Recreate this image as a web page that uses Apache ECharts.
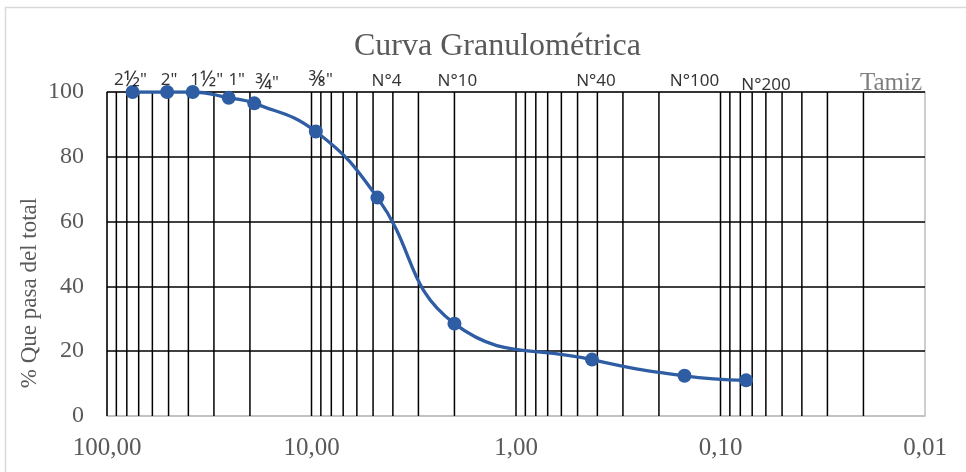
<!DOCTYPE html>
<html>
<head>
<meta charset="utf-8">
<script src="https://cdn.jsdelivr.net/npm/echarts@6/dist/echarts.min.js"></script>
<style>html,body{margin:0;padding:0;background:#fff}#c{width:966px;height:472px}</style>
</head>
<body>
<div id="c"></div>
<script>
// ---- data ----
const sieveLabels = ['2½"', '2"', '1½"', '1"', '¾"', '⅜"', 'N°4', 'N°10', 'N°40', 'N°100', 'N°200'];
const openingMm = [75, 50.8, 38.1, 25.4, 19.05, 9.525, 4.76, 2.0, 0.425, 0.15, 0.075];
const percentPassing = [100, 100, 100, 98.2, 96.5, 87.8, 67.4, 28.5, 17.4, 12.4, 11.0];
const gridLinesMm = [100, 90, 80, 70, 60, 50, 40, 30, 20,
  10, 9, 8, 7, 6, 5, 4, 3, 2,
  1, 0.9, 0.8, 0.7, 0.6, 0.5, 0.4, 0.3, 0.2,
  0.1, 0.09, 0.08, 0.07, 0.06, 0.05, 0.04, 0.03, 0.02];
const yTicks = [0, 20, 40, 60, 80, 100];

// ---- label styling (pixel nudges for sieve names) ----
const labelNudgeX = [-2, 2, 14, 8, 13, 5, 9, 3, 4, 10, 20];
const labelNudgeY = [-12, -12, -12, -12, -9, -12, -11, -11, -11, -11, -7];

const serif = '"Liberation Serif", "Times New Roman", serif';
const sans = '"Noto Sans", sans-serif';
const grey = '#595959';
const blue = '#2F5DA3';

// wrap vulgar-fraction characters in a larger rich-text style (Calibri draws them big)
const richLabel = s => s.replace(/([½¾⅜])/g, '{f|$1}').replace(/(^|\})([^{]+)(?=\{|$)/g, (m, p, t) => p + '{n|' + t + '}');

const chart = echarts.init(document.getElementById('c'));
chart.setOption({
  animation: false,
  backgroundColor: '#ffffff',
  title: {
    text: 'Curva Granulométrica',
    left: 349, top: 26,
    textStyle: { fontFamily: serif, fontSize: 32, fontWeight: 'normal', color: grey }
  },
  grid: { left: 107, right: 41, top: 92, bottom: 56, show: true, borderColor: '#bfbfbf', borderWidth: 1.5 },
  xAxis: {
    type: 'log', logBase: 10, min: 0.01, max: 100, inverse: true,
    axisLine: { show: false }, axisTick: { show: false },
    splitLine: { show: false },
    axisLabel: {
      fontFamily: serif, fontSize: 25, color: grey, margin: 20,
      formatter: v => Number(v).toFixed(2).replace('.', ',')
    }
  },
  yAxis: {
    type: 'value', min: yTicks[0], max: yTicks[yTicks.length - 1], interval: 20,
    axisLine: { show: false }, axisTick: { show: false },
    axisLabel: { fontFamily: serif, fontSize: 24, color: grey, margin: 23 },
    splitLine: { show: true, lineStyle: { color: ['#bfbfbf', '#000', '#000', '#000', '#000', '#000'], width: 1.5 } }
  },
  graphic: [
    { type: 'rect', shape: { x: 5.5, y: 7.5, width: 980, height: 490 }, style: { fill: 'none', stroke: '#d9d9d9', lineWidth: 1.5 }, silent: true },
    { type: 'text', x: 30, y: 293, rotation: Math.PI / 2,
      style: { text: '% Que pasa del total', font: '23px ' + serif, fill: grey, align: 'center', verticalAlign: 'middle' } },
    { type: 'text', x: 922, y: 83,
      style: { text: 'Tamiz', font: '25px ' + serif, fill: '#7f7f7f', align: 'right', verticalAlign: 'middle' } }
  ],
  series: [
    {
      type: 'custom', z: 1, silent: true,
      data: gridLinesMm.map(v => [v, 0]),
      renderItem: (params, api) => {
        const a = api.coord([api.value(0), yTicks[0]]);
        const b = api.coord([api.value(0), yTicks[yTicks.length - 1]]);
        return { type: 'line', shape: { x1: a[0], y1: a[1], x2: b[0], y2: b[1] }, style: { stroke: '#000', lineWidth: 1.5 } };
      }
    },
    {
      type: 'line', z: 5, smooth: 0.45,
      data: openingMm.map((x, i) => [x, percentPassing[i]]),
      symbol: 'circle', symbolSize: 14,
      lineStyle: { color: blue, width: 3.3 },
      itemStyle: { color: blue }
    },
    {
      type: 'scatter', z: 6, silent: true, symbolSize: 0, clip: false,
      data: openingMm.map((x, i) => ({
        value: [x, 100],
        label: { show: true, formatter: richLabel(sieveLabels[i]), position: [0, 0], offset: [labelNudgeX[i], labelNudgeY[i]],
          align: 'center', verticalAlign: 'middle', fontFamily: sans, fontSize: 17, color: '#000',
          rich: {
            n: { fontFamily: sans, fontSize: 17, color: '#000', lineHeight: 22 },
            f: { fontFamily: sans, fontSize: 21, color: '#000', lineHeight: 22 }
          } }
      }))
    }
  ]
});
</script>
</body>
</html>
